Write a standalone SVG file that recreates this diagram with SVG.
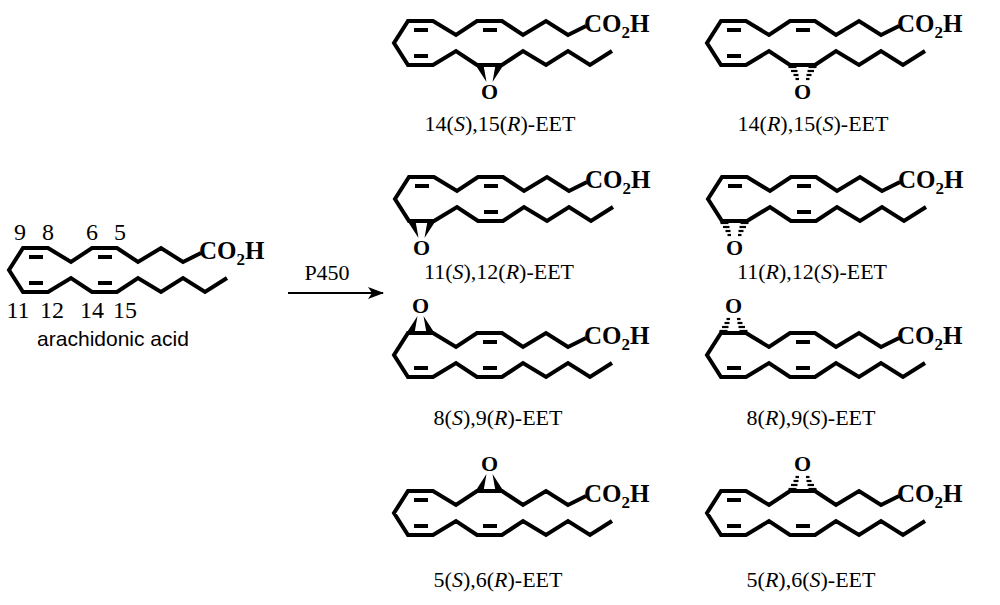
<svg xmlns="http://www.w3.org/2000/svg" xmlns:xlink="http://www.w3.org/1999/xlink" width="1000" height="605" viewBox="0 0 1000 605">
<style>
.b{fill:none;stroke:#000;stroke-width:4;stroke-linejoin:miter;stroke-linecap:butt}
.d{stroke:#000;stroke-width:4}
.h{stroke:#000;stroke-width:2.2}
.w{fill:#000}
.co{font-family:"Liberation Serif",serif;font-weight:bold;font-size:25px}
.o{font-family:"Liberation Serif",serif;font-weight:bold;font-size:22px;text-anchor:middle}
.lb{font-family:"Liberation Serif",serif;font-size:22px;text-anchor:middle}
.n{font-family:"Liberation Serif",serif;font-size:24px;text-anchor:middle}
.an{font-family:"Liberation Sans",sans-serif;font-size:21px;text-anchor:middle}
</style>
<defs>
<path id="bb" class="b" d="M192,-17 L174,-8 152,-22 129,-8 108,-22 83,-22 62,-8 39,-22 14,-22 0,0 14,22 39,22 62,8 83,22 108,22 129,8 152,22 174,8 196,22 218,8"/>
<g id="co"><text class="co" x="190" y="-11">CO<tspan font-size="17" dy="6">2</tspan><tspan dy="-6">H</tspan></text></g>
<line id="dT1" class="d" x1="20" y1="-13" x2="34" y2="-13"/>
<line id="dT4" class="d" x1="89" y1="-13" x2="103" y2="-13"/>
<line id="dB1" class="d" x1="20" y1="13" x2="34" y2="13"/>
<line id="dB4" class="d" x1="89" y1="13" x2="103" y2="13"/>
<g id="wedgeDown"><polygon class="w" points="-14,0 -6,0 -3,17"/><polygon class="w" points="14,0 6,0 3,17"/><text class="o" x="0" y="34">O</text></g>
<g id="hashDown"><line class="h" x1="-14" y1="2" x2="-6" y2="2"/><line class="h" x1="-11.5" y1="6" x2="-5" y2="6"/><line class="h" x1="-9" y1="10" x2="-4" y2="10"/><line class="h" x1="-7" y1="14" x2="-3.5" y2="14"/><line class="h" x1="14" y1="2" x2="6" y2="2"/><line class="h" x1="11.5" y1="6" x2="5" y2="6"/><line class="h" x1="9" y1="10" x2="4" y2="10"/><line class="h" x1="7" y1="14" x2="3.5" y2="14"/><text class="o" x="0" y="34">O</text></g>
<g id="wedgeUp"><polygon class="w" points="-14,0 -6,0 -3,-17"/><polygon class="w" points="14,0 6,0 3,-17"/><text class="o" x="0" y="-20">O</text></g>
<g id="hashUp"><line class="h" x1="-14" y1="-2" x2="-6" y2="-2"/><line class="h" x1="-11.5" y1="-6" x2="-5" y2="-6"/><line class="h" x1="-9" y1="-10" x2="-4" y2="-10"/><line class="h" x1="-7" y1="-14" x2="-3.5" y2="-14"/><line class="h" x1="14" y1="-2" x2="6" y2="-2"/><line class="h" x1="11.5" y1="-6" x2="5" y2="-6"/><line class="h" x1="9" y1="-10" x2="4" y2="-10"/><line class="h" x1="7" y1="-14" x2="3.5" y2="-14"/><text class="o" x="0" y="-20">O</text></g>
<marker id="ar" markerWidth="16" markerHeight="12" refX="15" refY="6" orient="auto" markerUnits="userSpaceOnUse"><path d="M0,0 L16,6 L0,12 L4,6 Z" fill="#000"/></marker>
</defs>
<g id="aa" transform="translate(9,270)">
<use xlink:href="#bb"/><use xlink:href="#co"/><use xlink:href="#dT1"/><use xlink:href="#dT4"/><use xlink:href="#dB1"/><use xlink:href="#dB4"/>
<text class="n" x="11" y="-30">9</text><text class="n" x="39" y="-30">8</text><text class="n" x="83" y="-30">6</text><text class="n" x="111" y="-30">5</text>
<text class="n" x="9" y="48">11</text><text class="n" x="43" y="48">12</text><text class="n" x="83" y="48">14</text><text class="n" x="116" y="48">15</text>
<text class="an" x="104" y="76">arachidonic acid</text>
</g>
<g id="connectors">
<line x1="288" y1="293" x2="383" y2="293" stroke="#000" stroke-width="2.2" marker-end="url(#ar)"/>
<text class="lb" x="327" y="280">P450</text>
</g>
<g id="eet1415SR" transform="translate(394,43)"><use xlink:href="#bb"/><use xlink:href="#co"/><use xlink:href="#dT1"/><use xlink:href="#dT4"/><use xlink:href="#dB1"/><use xlink:href="#wedgeDown" transform="translate(95.5,22)"/><text class="lb" x="106" y="88">14(<tspan font-style="italic">S</tspan>),15(<tspan font-style="italic">R</tspan>)-EET</text></g>
<g id="eet1415RS" transform="translate(707,43)"><use xlink:href="#bb"/><use xlink:href="#co"/><use xlink:href="#dT1"/><use xlink:href="#dT4"/><use xlink:href="#dB1"/><use xlink:href="#hashDown" transform="translate(95.5,22)"/><text class="lb" x="106" y="88">14(<tspan font-style="italic">R</tspan>),15(<tspan font-style="italic">S</tspan>)-EET</text></g>
<g id="eet1112SR" transform="translate(395,199)"><use xlink:href="#bb"/><use xlink:href="#co"/><use xlink:href="#dT1"/><use xlink:href="#dT4"/><use xlink:href="#dB4"/><use xlink:href="#wedgeDown" transform="translate(26.5,22)"/><text class="lb" x="104" y="80">11(<tspan font-style="italic">S</tspan>),12(<tspan font-style="italic">R</tspan>)-EET</text></g>
<g id="eet1112RS" transform="translate(708,199)"><use xlink:href="#bb"/><use xlink:href="#co"/><use xlink:href="#dT1"/><use xlink:href="#dT4"/><use xlink:href="#dB4"/><use xlink:href="#hashDown" transform="translate(26.5,22)"/><text class="lb" x="104" y="80">11(<tspan font-style="italic">R</tspan>),12(<tspan font-style="italic">S</tspan>)-EET</text></g>
<g id="eet89SR" transform="translate(394,355)"><use xlink:href="#bb"/><use xlink:href="#co"/><use xlink:href="#dT4"/><use xlink:href="#dB1"/><use xlink:href="#dB4"/><use xlink:href="#wedgeUp" transform="translate(26.5,-22)"/><text class="lb" x="104" y="70">8(<tspan font-style="italic">S</tspan>),9(<tspan font-style="italic">R</tspan>)-EET</text></g>
<g id="eet89RS" transform="translate(707,355)"><use xlink:href="#bb"/><use xlink:href="#co"/><use xlink:href="#dT4"/><use xlink:href="#dB1"/><use xlink:href="#dB4"/><use xlink:href="#hashUp" transform="translate(26.5,-22)"/><text class="lb" x="104" y="70">8(<tspan font-style="italic">R</tspan>),9(<tspan font-style="italic">S</tspan>)-EET</text></g>
<g id="eet56SR" transform="translate(394,513)"><use xlink:href="#bb"/><use xlink:href="#co"/><use xlink:href="#dT1"/><use xlink:href="#dB1"/><use xlink:href="#dB4"/><use xlink:href="#wedgeUp" transform="translate(95.5,-22)"/><text class="lb" x="104" y="74">5(<tspan font-style="italic">S</tspan>),6(<tspan font-style="italic">R</tspan>)-EET</text></g>
<g id="eet56RS" transform="translate(707,513)"><use xlink:href="#bb"/><use xlink:href="#co"/><use xlink:href="#dT1"/><use xlink:href="#dB1"/><use xlink:href="#dB4"/><use xlink:href="#hashUp" transform="translate(95.5,-22)"/><text class="lb" x="104" y="74">5(<tspan font-style="italic">R</tspan>),6(<tspan font-style="italic">S</tspan>)-EET</text></g>
</svg>
